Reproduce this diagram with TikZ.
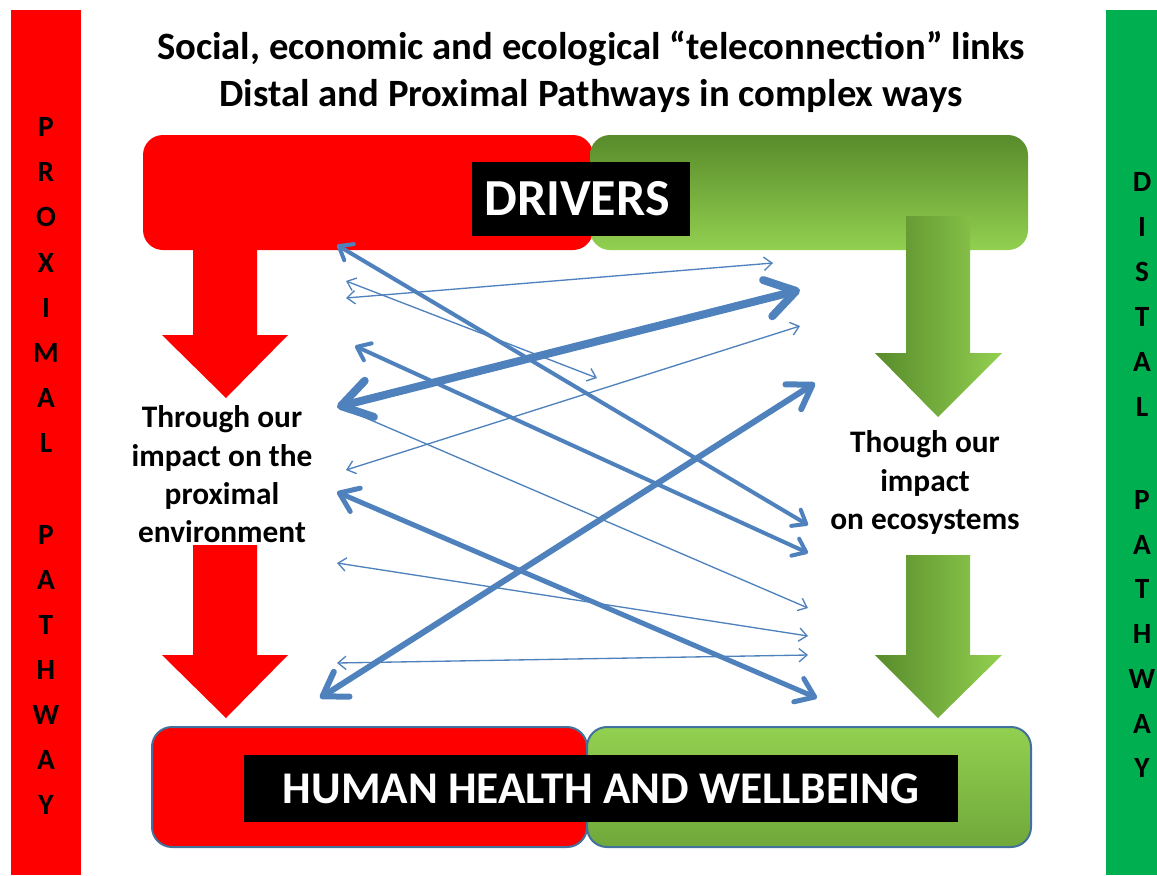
\documentclass[tikz,border=0pt]{standalone}
\usepackage{fontspec}
\setmainfont{Carlito}
\usetikzlibrary{arrows.meta}
\definecolor{pxred}{HTML}{FF0000}
\definecolor{dsgreen}{HTML}{00B050}
\definecolor{lnblue}{HTML}{4F81BD}
\definecolor{gdark}{HTML}{588B2B}
\definecolor{glight}{HTML}{92D050}
\definecolor{gbot}{HTML}{70A83A}
\definecolor{bordblue}{HTML}{41719C}
\begin{document}
\begin{tikzpicture}[x=0.75pt,y=-0.75pt,
  sideletter/.style={font=\fontsize{22}{26}\selectfont\bfseries, inner sep=0pt},
  bodytext/.style={font=\fontsize{23.5}{28.7}\selectfont\bfseries, align=center, inner sep=0pt},
  titletext/.style={font=\fontsize{29}{35.25}\selectfont\bfseries, align=center, inner sep=0pt},
  blackbox/.style={fill=black, text=white, inner sep=0pt},
  thinA/.style={draw=lnblue, line width=1pt, {Straight Barb[length=6pt,width=10pt]}-{Straight Barb[length=6pt,width=10pt]}},
  thinR/.style={draw=lnblue, line width=1pt, -{Straight Barb[length=6pt,width=10pt]}},
  medA/.style={draw=lnblue, line width=3pt, {Straight Barb[length=9pt,width=14pt,round]}-{Straight Barb[length=9pt,width=14pt,round]}},
  midA/.style={draw=lnblue, line width=3.75pt, {Straight Barb[length=13pt,width=19pt,round]}-{Straight Barb[length=13pt,width=19pt,round]}},
  bigA/.style={draw=lnblue, line width=4.5pt, {Straight Barb[length=17pt,width=22pt,round]}-{Straight Barb[length=17pt,width=22pt,round]}},
  hugeA/.style={draw=lnblue, line width=6pt, {Straight Barb[length=22pt,width=28pt,round]}-{Straight Barb[length=22pt,width=28pt,round]}},
  redarrow/.style={fill=pxred},
  greenarrow/.style={left color=gdark, right color=glight}
]
\useasboundingbox (0,0) rectangle (1157,875);

% side bars
\fill[pxred] (11,10) rectangle (81,875);
\fill[dsgreen] (1106,10) rectangle (1157,875);
\foreach \l [count=\i] in {P,R,O,X,I,M,A,L}
  \node[sideletter] (lprox\i) at (46,{127+45.2*(\i-1)}) {\l};
\foreach \l [count=\i] in {P,A,T,H,W,A,Y}
  \node[sideletter] (lpath\i) at (46,{535+45*(\i-1)}) {\l};
\foreach \l [count=\i] in {D,I,S,T,A,L}
  \node[sideletter] (rdist\i) at (1142,{182+45*(\i-1)}) {\l};
\foreach \l [count=\i] in {P,A,T,H,W,A,Y}
  \node[sideletter] (rpath\i) at (1142,{500+44.7*(\i-1)}) {\l};

% title
\node[titletext] (title) at (591,72) {Social, economic and ecological “teleconnection” links\\Distal and Proximal Pathways in complex ways};

% drivers boxes
\fill[pxred, rounded corners=15pt] (143,135) rectangle (593,250);
\shade[top color=gdark, bottom color=glight, rounded corners=15pt] (590,135) rectangle (1028,250);

% bottom boxes
\fill[pxred, rounded corners=15pt] (152,727) rectangle (587,847);
\draw[bordblue, line width=1.5pt, rounded corners=15pt] (152,727) rectangle (587,847);
\shade[top color=glight, bottom color=gbot, rounded corners=15pt] (587,727) rectangle (1031,847);
\draw[bordblue, line width=1.5pt, rounded corners=15pt] (587,727) rectangle (1031,847);

% red arrows
\fill[redarrow] (193,246) -- (257,246) -- (257,335) -- (288,335) -- (226,398) -- (162,335) -- (193,335) -- cycle;
\fill[redarrow] (193,545) -- (257,545) -- (257,655) -- (288,655) -- (226,718) -- (162,655) -- (193,655) -- cycle;
% green arrows
\shade[greenarrow] (906,216) -- (970,216) -- (970,353) -- (1002,353) -- (938,417) -- (875,353) -- (906,353) -- cycle;
\shade[greenarrow] (906,555) -- (970,555) -- (970,655) -- (1002,655) -- (938,718) -- (875,655) -- (906,655) -- cycle;

% black label boxes
\node[blackbox, minimum width=163.5pt, minimum height=55.5pt, font=\fontsize{39}{42}\selectfont\bfseries] (drivers) at (581,199) {DRIVERS\hspace*{6pt}};
\node[blackbox, minimum width=535.5pt, minimum height=50.25pt, font=\fontsize{34}{37}\selectfont\bfseries] (health) at (601,788.5) {HUMAN HEALTH AND WELLBEING};

% side texts
\node[bodytext] (proxtext) at (222,474.5) {Through our\\impact on the\\proximal\\environment};
\node[bodytext] (ecotext) at (925,482.5) {Though our\\impact\\on ecosystems};

% endpoints of the teleconnection links
\coordinate (l1) at (337,245);  \coordinate (r1) at (808,525);
\coordinate (l2) at (346,298);  \coordinate (r2) at (773,263);
\coordinate (l3) at (346,281);  \coordinate (r3) at (597,378);
\coordinate (l4) at (337,407);  \coordinate (r4) at (800,290);
\coordinate (l5) at (346,470);  \coordinate (r5) at (800,326);
\coordinate (l6) at (355,346);  \coordinate (r6) at (808,553);
\coordinate (l7) at (352,412);  \coordinate (r7) at (808,608);
\coordinate (l8) at (320,698);  \coordinate (r8) at (815,383);
\coordinate (l9) at (337,492);  \coordinate (r9) at (817,698);
\coordinate (l10) at (337,563); \coordinate (r10) at (808,636);
\coordinate (l11) at (337,663); \coordinate (r11) at (808,655);

\draw[thinA] (l2) -- (r2);
\draw[thinA] (l3) -- (r3);
\draw[thinA] (l5) -- (r5);
\draw[thinR] (l7) -- (r7);
\draw[thinA] (l10) -- (r10);
\draw[thinA] (l11) -- (r11);
\draw[medA] (l1) -- (r1);
\draw[medA] (l6) -- (r6);
\draw[midA] (l9) -- (r9);
\draw[bigA] (l8) -- (r8);
\draw[hugeA] (l4) -- (r4);
\end{tikzpicture}
\end{document}
